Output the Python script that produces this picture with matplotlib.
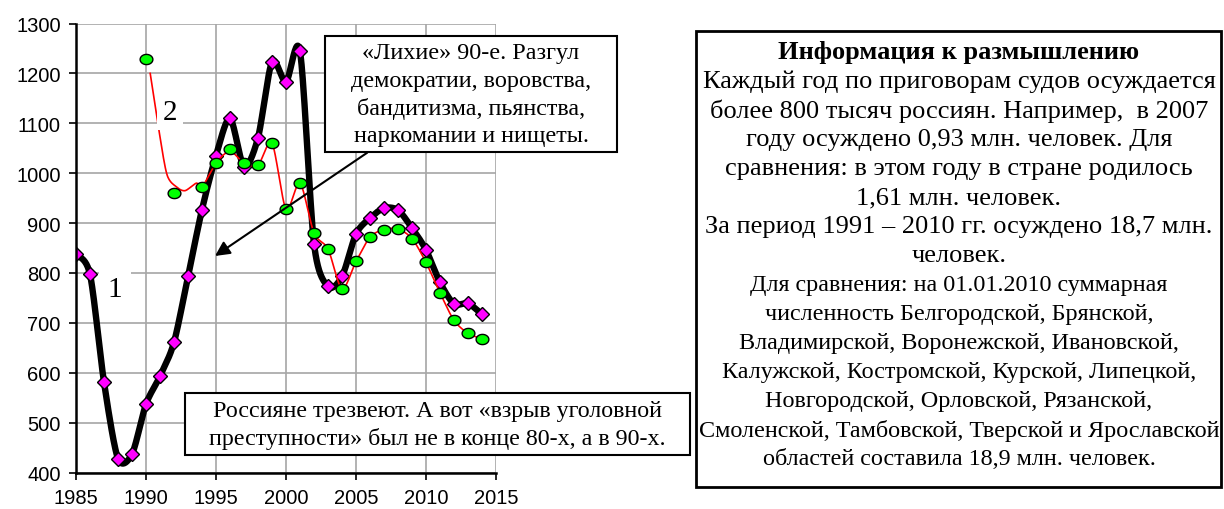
import numpy as np
import matplotlib.pyplot as plt
from matplotlib.patches import Rectangle
from matplotlib.path import Path

# Series 1: convicted (thousands), black line with magenta diamonds
years1 = list(range(1985, 2015))
convicted1 = [837, 797, 581, 428, 437, 537, 593, 661, 793, 927,
              1035, 1110, 1013, 1071, 1223, 1183, 1244, 859, 773, 793,
              878, 910, 930, 926, 890, 846, 781, 738, 739, 717]

# Series 2: green circles
years2 = [1990, 1992] + list(range(1994, 2015))
convicted2 = [1228, 960, 972, 1020, 1048, 1020, 1016, 1060, 928, 980,
              880, 848, 768, 823, 872, 887, 888, 869, 821, 760,
              705, 679, 668]

# thin red trend line
red_years = [1990.3, 1990.9, 1991.5, 1992.2, 1992.8, 1993.6] + list(range(1994, 2015))
red_vals = [1200, 1090, 997, 972, 965, 980, 972, 1020, 1044, 1020, 1016,
            1060, 928, 980, 880, 848, 768, 823, 872, 887, 888,
            869, 821, 760, 705, 679, 668]

box_top_lines = ['«Лихие» 90-е. Разгул',
                 'демократии, воровства,',
                 'бандитизма, пьянства,',
                 'наркомании и нищеты.']
box_bottom_lines = ['Россияне трезвеют. А вот «взрыв уголовной',
                    'преступности» был не в конце 80-х, а в 90-х.']
info_title = 'Информация к размышлению'
info_lines = ['Каждый год по приговорам судов осуждается',
              'более 800 тысяч россиян. Например,  в 2007',
              'году осуждено 0,93 млн. человек. Для',
              'сравнения: в этом году в стране родилось',
              '1,61 млн. человек.',
              'За период 1991 – 2010 гг. осуждено 18,7 млн.',
              'человек.']
info_lines_small = ['Для сравнения: на 01.01.2010 суммарная',
                    'численность Белгородской, Брянской,',
                    'Владимирской, Воронежской, Ивановской,',
                    'Калужской, Костромской, Курской, Липецкой,',
                    'Новгородской, Орловской, Рязанской,',
                    'Смоленской, Тамбовской, Тверской и Ярославской',
                    'областей составила 18,9 млн. человек.']


def smooth(x, y, k=0.42, n=24):
    # cardinal spline through the points (Excel-like smoothed line)
    p = np.column_stack([x, y]).astype(float)
    p = np.vstack([p[0], p, p[-1]])
    t = np.linspace(0, 1, n, endpoint=False)[:, None]
    h00 = 2 * t ** 3 - 3 * t ** 2 + 1
    h10 = t ** 3 - 2 * t ** 2 + t
    h01 = -2 * t ** 3 + 3 * t ** 2
    h11 = t ** 3 - t ** 2
    out = []
    for i in range(1, len(p) - 2):
        p0, p1, p2, p3 = p[i - 1], p[i], p[i + 1], p[i + 2]
        m1 = k * (p2 - p0)
        m2 = k * (p3 - p1)
        out.append(h00 * p1 + h10 * m1 + h01 * p2 + h11 * m2)
    out.append(p[-2][None, :])
    pts = np.vstack(out)
    return pts[:, 0], pts[:, 1]


W, H = 1224, 510


def px(x, y):
    return x / W, 1 - y / H


serif = 'Liberation Serif'
fig = plt.figure(figsize=(12.24, 5.10), dpi=100)
ax = fig.add_axes([76 / W, 1 - 473.5 / H, 420 / W, 449 / H])

# ellipse marker for the green points
th = np.linspace(0, 2 * np.pi, 40)
ellipse = Path(np.column_stack([np.cos(th), 0.8 * np.sin(th)]), closed=True)

sx, sy = smooth(years1, convicted1)
ax.plot(sx, sy, color='black', lw=4.6, solid_capstyle='round', zorder=3)
ax.plot(years1, convicted1, ls='none', marker='D', ms=7.2, mfc='#ff00ff',
        mec='black', mew=1.0, zorder=4)
rx, ry = smooth(red_years, red_vals)
ax.plot(rx, ry, color='#ff0000', lw=1.2, zorder=5)
ax.plot(years2, convicted2, ls='none', marker=ellipse, ms=9.2, mfc='#00ff00',
        mec='black', mew=1.0, zorder=6)

ax.set_xlim(1985, 2015)
ax.set_ylim(400, 1300)
ax.set_xticks(range(1985, 2016, 5))
ax.set_yticks(range(400, 1301, 100))
ax.grid(True, color='#a6a6a6', lw=1.2)
ax.set_axisbelow(True)
for s in ['top', 'right']:
    ax.spines[s].set_visible(False)
for s in ['left', 'bottom']:
    ax.spines[s].set_linewidth(1.8)
    ax.spines[s].set_zorder(7)
ax.tick_params(direction='out', length=5, width=1.2, labelsize=14.5, pad=6)
for lab in ax.get_xticklabels() + ax.get_yticklabels():
    lab.set_family('Liberation Sans')

ax.text(1987.8, 767, '1', family=serif, fontsize=21, ha='center', va='center',
        bbox=dict(fc='white', ec='none', pad=6), zorder=8)
ax.text(1991.7, 1123, '2', family=serif, fontsize=21, ha='center', va='center',
        bbox=dict(fc='white', ec='none', pad=4), zorder=8)

ax.annotate('', xy=(1994.93, 834), xytext=(2005.8, 1041),
            arrowprops=dict(arrowstyle='-|>', color='black', lw=1.5,
                            mutation_scale=22, shrinkA=0, shrinkB=0),
            annotation_clip=False, zorder=9)

# top annotation box
fig.patches.append(Rectangle(px(325, 153), 292 / W, 116 / H, transform=fig.transFigure,
                             fc='white', ec='black', lw=1.5, zorder=10))
for i, line in enumerate(box_top_lines):
    fig.text(*px(471, 53.3 + i * 27.8), line, family=serif, fontsize=17.4,
             ha='center', va='center', zorder=11)

# bottom annotation box
fig.patches.append(Rectangle(px(185, 456), 505 / W, 62 / H, transform=fig.transFigure,
                             fc='white', ec='black', lw=1.5, zorder=10))
for i, line in enumerate(box_bottom_lines):
    fig.text(*px(437.5, 411.7 + i * 27.6), line, family=serif, fontsize=17.3,
             ha='center', va='center', zorder=11)

# information box on the right
fig.patches.append(Rectangle(px(696, 487.5), 525 / W, 455.8 / H, transform=fig.transFigure,
                             fc='white', ec='black', lw=2, zorder=10))
fig.text(*px(959, 53), info_title, family=serif, fontsize=19, weight='bold',
         ha='center', va='center', zorder=11)
body = [(line, 19) for line in info_lines] + [(line, 17.4) for line in info_lines_small]
for i, (line, size) in enumerate(body):
    fig.text(*px(959, 81.7 + i * 29.1), line, family=serif, fontsize=size,
             ha='center', va='center', zorder=11)

fig.savefig('out.png', dpi=100)
